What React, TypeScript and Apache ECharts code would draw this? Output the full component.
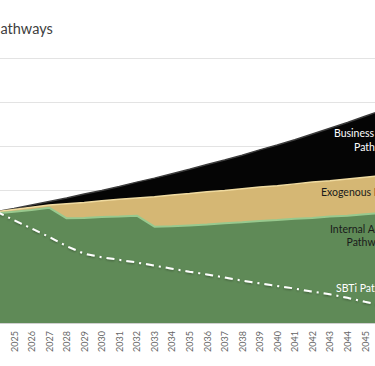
import React, { useEffect, useRef } from "react";
import * as echarts from "echarts";

const years = [
  "2024", "2025", "2026", "2027", "2028", "2029", "2030", "2031", "2032", "2033",
  "2034", "2035", "2036", "2037", "2038", "2039", "2040", "2041", "2042", "2043",
  "2044", "2045", "2046", "2047", "2048", "2049", "2050",
];

const businessAsUsual = [
  252, 259, 267, 275, 283, 292, 300, 309, 319, 328,
  338, 348, 359, 369, 380, 392, 403, 415, 428, 441,
  454, 468, 482, 496, 511, 526, 542,
];

const exogenous = [
  252, 257, 262, 267, 270, 273, 277, 280, 283, 286,
  290, 293, 297, 300, 304, 308, 311, 315, 319, 322,
  326, 330, 334, 338, 341, 345, 349,
];

const internalAction = [
  248, 252, 256, 261, 237, 238, 240, 241, 243, 218,
  219, 221, 223, 226, 228, 231, 233, 236, 238, 241,
  243, 246, 249, 251, 254, 256, 259,
];

const sbti = [
  252, 233, 214, 195, 174, 157, 149, 143, 137, 130,
  123, 116, 110, 103, 96, 90, 84, 78, 71, 65,
  57, 48, 40, 32, 24, 16, 8,
];

const firstShownYear = "2025";
const lastShownYear = "2045";

const labelFont = "Lato, 'Noto Sans', sans-serif";
const OFF = 60; // hidden left part of the chart canvas
const W = 535;

export default function App() {
  const ref = useRef<HTMLDivElement>(null);

  useEffect(() => {
    if (!ref.current) return;
    const chart = echarts.init(ref.current, undefined, { renderer: "svg" });
    const t = (text: string, x: number, y: number, fill: string) => ({
      type: "text",
      x: x + OFF,
      y,
      z: 10,
      style: { text, fontSize: 10.5, fontFamily: labelFont, fill, textVerticalAlign: "middle" },
    });
    const lo = years.indexOf(firstShownYear);
    const hi = years.indexOf(lastShownYear);
    chart.setOption({
      animation: false,
      backgroundColor: "#ffffff",
      grid: { left: OFF - 3.55, right: W - (OFF + 452.75), top: 58, bottom: 43, containLabel: false },
      xAxis: {
        type: "category",
        data: years,
        boundaryGap: false,
        axisLine: { show: true, lineStyle: { color: "#d0d0d0", width: 2 } },
        axisTick: { show: false },
        axisLabel: {
          rotate: 90,
          margin: 8,
          fontSize: 9,
          color: "#666666",
          fontFamily: labelFont,
          interval: (idx: number) => idx >= lo && idx <= hi,
        },
        splitLine: { show: false },
      },
      yAxis: {
        type: "value",
        min: 0,
        max: 600,
        interval: 100,
        axisLabel: { show: false },
        axisLine: { show: false },
        axisTick: { show: false },
        splitLine: { show: true, lineStyle: { color: "#e3e3e3", width: 1 } },
      },
      series: [
        {
          name: "Business As Usual Pathway",
          type: "line",
          data: businessAsUsual,
          symbol: "none",
          z: 1,
          lineStyle: { color: "#3c3c3c", width: 1.5 },
          areaStyle: { color: "#050505", opacity: 1 },
        },
        {
          name: "Exogenous Pathway",
          type: "line",
          data: exogenous,
          symbol: "none",
          z: 2,
          lineStyle: { color: "#f0dba0", width: 1.5 },
          areaStyle: { color: "#d5b774", opacity: 1 },
        },
        {
          name: "Internal Action Pathway",
          type: "line",
          data: internalAction,
          symbol: "none",
          z: 3,
          lineStyle: { color: "#98c98e", width: 2 },
          areaStyle: { color: "#5f8a57", opacity: 1 },
        },
        {
          name: "SBTi Pathway",
          type: "line",
          data: sbti,
          symbol: "none",
          z: 4,
          lineStyle: {
            color: "#ffffff",
            width: 2,
            type: [8, 5, 2, 5],
            shadowColor: "rgba(0,0,0,0.35)",
            shadowBlur: 2,
            shadowOffsetY: 1,
          },
        },
      ],
      graphic: [
        {
          type: "text",
          x: OFF + 0.5,
          y: 28,
          style: { text: "athways", fontSize: 14.5, fontFamily: labelFont, fill: "#404040", textVerticalAlign: "middle" },
        },
        t("Business As Usual", 334, 132.5, "#ffffff"),
        t("Pathway", 354, 146.5, "#ffffff"),
        t("Exogenous Pathway", 321, 191.5, "#1a1a1a"),
        t("Internal Action", 330, 229, "#1a1a1a"),
        t("Pathway", 346.5, 242, "#1a1a1a"),
        t("SBTi Pathway", 336, 287.5, "#ffffff"),
      ],
    });
    return () => chart.dispose();
  }, []);

  return (
    <div style={{ position: "fixed", left: 0, top: 0, width: 375, height: 366, overflow: "hidden", background: "#fff" }}>
      <div ref={ref} style={{ position: "absolute", left: -OFF, top: 0, width: W, height: 366 }} />
    </div>
  );
}
